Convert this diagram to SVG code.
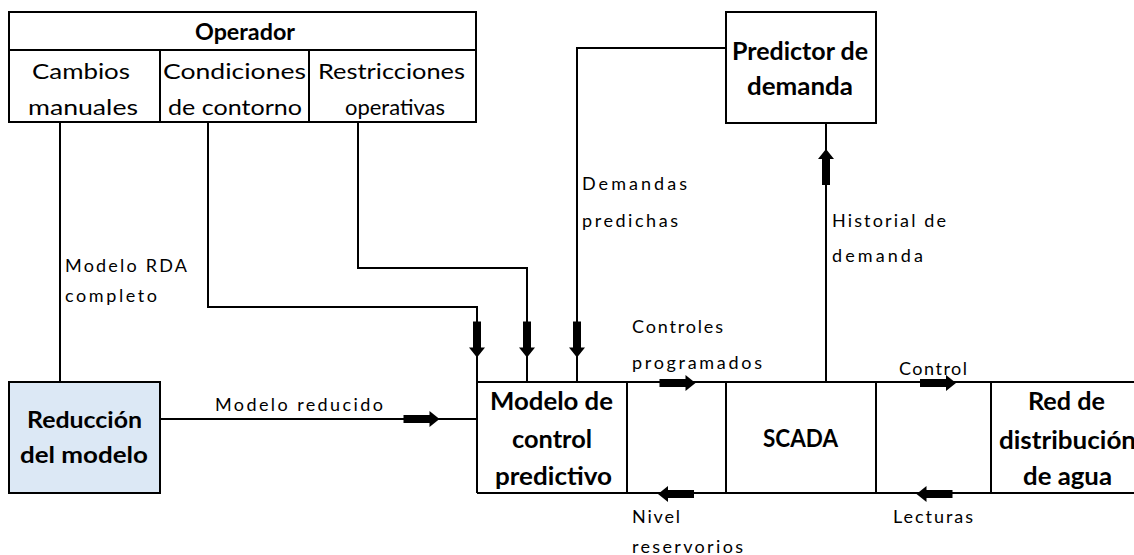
<svg xmlns="http://www.w3.org/2000/svg" width="1134" height="555" viewBox="0 0 1134 555">
  <style>
    text { font-family: "Lato", "Liberation Sans", sans-serif; fill: #000; }
    .b { font-weight: bold; font-size: 25px; }
    .m { font-size: 22px; }
    .s { font-size: 18px; }
    .box { fill: #fff; stroke: #000; stroke-width: 2; }
    .ln { fill: none; stroke: #000; stroke-width: 2; }
  </style>
  <defs>
    <!-- block arrow pointing right, centred on the origin -->
    <path id="arr" d="M-18,-4 H8 V-8 L18,0 L8,8 V4 H-18 Z" fill="#000"/>
  </defs>

  <rect width="1134" height="555" fill="#fff"/>

  <!-- Operator panel -->
  <g id="operador">
    <rect class="box" x="9" y="12" width="467" height="110"/>
    <line class="ln" x1="9" y1="50" x2="476" y2="50"/>
    <line class="ln" x1="160" y1="50" x2="160" y2="122"/>
    <line class="ln" x1="309" y1="50" x2="309" y2="122"/>
    <text class="b" style="font-size:22px" x="195" y="40" textLength="100" lengthAdjust="spacingAndGlyphs">Operador</text>
    <text class="m" x="32" y="79" textLength="98" lengthAdjust="spacingAndGlyphs">Cambios</text>
    <text class="m" x="28" y="115" textLength="110" lengthAdjust="spacingAndGlyphs">manuales</text>
    <text class="m" x="163" y="79" textLength="143" lengthAdjust="spacingAndGlyphs">Condiciones</text>
    <text class="m" x="168" y="115" textLength="134" lengthAdjust="spacingAndGlyphs">de contorno</text>
    <text class="m" x="318" y="79" textLength="147" lengthAdjust="spacingAndGlyphs">Restricciones</text>
    <text class="m" x="345" y="115" textLength="100" lengthAdjust="spacingAndGlyphs">operativas</text>
  </g>

  <!-- Demand predictor -->
  <g id="predictor">
    <rect class="box" x="726" y="12" width="150" height="111"/>
    <text class="b" x="732" y="60" textLength="136" lengthAdjust="spacingAndGlyphs">Predictor de</text>
    <text class="b" x="747" y="95" textLength="106" lengthAdjust="spacingAndGlyphs">demanda</text>
  </g>

  <!-- Model reduction -->
  <g id="reduccion">
    <rect x="9" y="382" width="151" height="111" fill="#dce8f5" stroke="#000" stroke-width="2"/>
    <text class="b" style="font-size:23px" x="27" y="428" textLength="115" lengthAdjust="spacingAndGlyphs">Reducción</text>
    <text class="b" style="font-size:23px" x="20" y="463" textLength="128" lengthAdjust="spacingAndGlyphs">del modelo</text>
  </g>

  <!-- Bottom strip: MPC, SCADA, water network -->
  <g id="cadena">
    <line class="ln" x1="477" y1="382" x2="1134" y2="382"/>
    <line class="ln" x1="477" y1="493" x2="1134" y2="493"/>
    <line class="ln" x1="627" y1="382" x2="627" y2="493"/>
    <line class="ln" x1="726" y1="382" x2="726" y2="493"/>
    <line class="ln" x1="876" y1="382" x2="876" y2="493"/>
    <line class="ln" x1="991" y1="382" x2="991" y2="493"/>
  </g>
  <g id="mpc">
    <line class="ln" x1="477" y1="382" x2="477" y2="493"/>
    <text class="b" x="490" y="410" textLength="123" lengthAdjust="spacingAndGlyphs">Modelo de</text>
    <text class="b" x="512" y="448" textLength="80" lengthAdjust="spacingAndGlyphs">control</text>
    <text class="b" x="495" y="485" textLength="117" lengthAdjust="spacingAndGlyphs">predictivo</text>
  </g>
  <g id="scada">
    <text class="b" x="763" y="447" textLength="75" lengthAdjust="spacingAndGlyphs">SCADA</text>
  </g>
  <g id="red">
    <text class="b" x="1028" y="410" textLength="77" lengthAdjust="spacingAndGlyphs">Red de</text>
    <text class="b" x="999" y="449" textLength="137" lengthAdjust="spacingAndGlyphs">distribución</text>
    <text class="b" x="1023" y="485" textLength="89" lengthAdjust="spacingAndGlyphs">de agua</text>
  </g>

  <!-- Connectors -->
  <g id="conectores">
    <line class="ln" x1="60" y1="122" x2="60" y2="382"/>
    <path class="ln" d="M208,122 V307 H477 V382"/>
    <path class="ln" d="M358,122 V268 H527 V382"/>
    <path class="ln" d="M726,48 H577 V382"/>
    <line class="ln" x1="826" y1="382" x2="826" y2="123"/>
    <line class="ln" x1="160" y1="419" x2="477" y2="419"/>

    <use href="#arr" transform="translate(477,339.5) rotate(90)"/>
    <use href="#arr" transform="translate(527,339.5) rotate(90)"/>
    <use href="#arr" transform="translate(577,339.5) rotate(90)"/>
    <use href="#arr" transform="translate(826,167) rotate(-90)"/>
    <use href="#arr" transform="translate(421.5,419)"/>
    <use href="#arr" transform="translate(677.5,383)"/>
    <use href="#arr" transform="translate(938,383)"/>
    <use href="#arr" transform="translate(676,494) rotate(180)"/>
    <use href="#arr" transform="translate(934.5,494) rotate(180)"/>

    <text class="s" x="65" y="272" textLength="122">Modelo RDA</text>
    <text class="s" x="65" y="302" textLength="92">completo</text>
    <text class="s" x="582" y="190" textLength="105">Demandas</text>
    <text class="s" x="582" y="227" textLength="96">predichas</text>
    <text class="s" x="832" y="227" textLength="114">Historial de</text>
    <text class="s" x="832" y="262" textLength="91">demanda</text>
    <text class="s" x="215" y="411" textLength="168">Modelo reducido</text>
    <text class="s" x="632" y="333" textLength="91">Controles</text>
    <text class="s" x="632" y="369" textLength="130">programados</text>
    <text class="s" x="632" y="523" textLength="48">Nivel</text>
    <text class="s" x="632" y="553" textLength="111">reservorios</text>
    <text class="s" x="899" y="375" textLength="68">Control</text>
    <text class="s" x="893" y="523" textLength="80">Lecturas</text>
  </g>
</svg>
